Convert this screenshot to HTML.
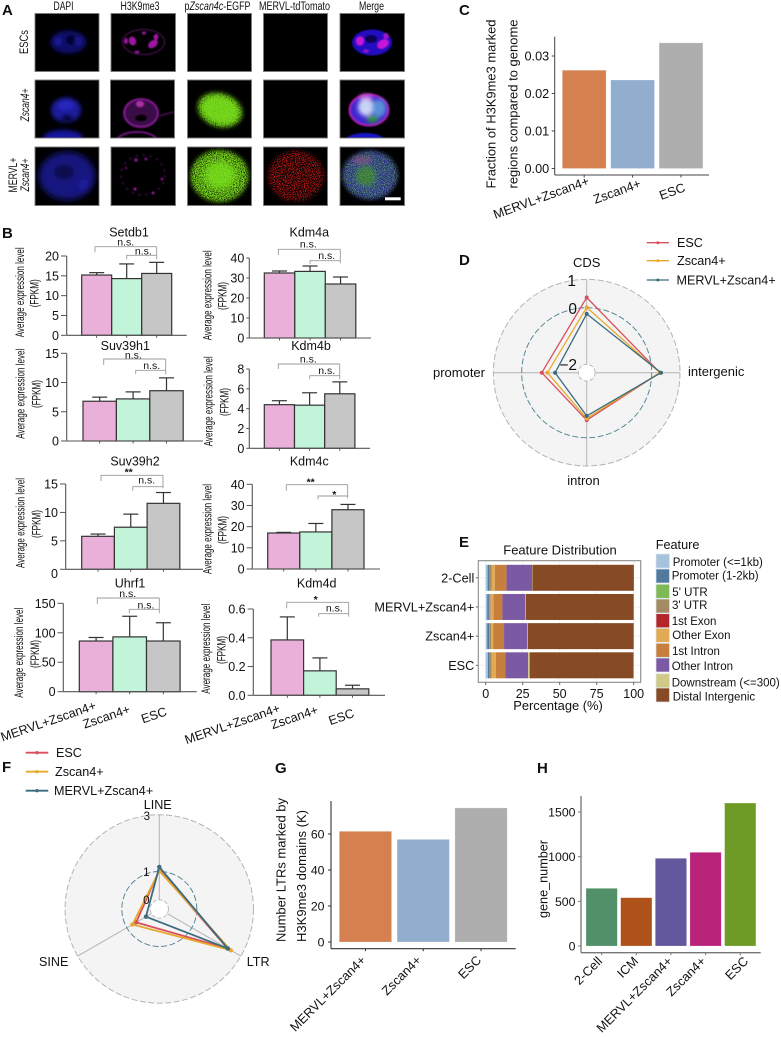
<!DOCTYPE html>
<html lang="en">
<head>
<meta charset="utf-8">
<title>H3K9me3 multi-panel figure</title>
<style>
html,body{margin:0;padding:0;background:#fff;}
svg#figure{display:block;font-family:"Liberation Sans",sans-serif;fill:#111;}
.letter{font-size:15px;font-weight:bold;fill:#111;}
.coltitle{font-size:11.5px;text-anchor:middle;}
.rowlabel{font-size:12px;text-anchor:middle;}
</style>
</head>
<body>
<svg id="figure" xmlns="http://www.w3.org/2000/svg" width="781" height="1037" viewBox="0 0 781 1037">
<defs>
<filter id="b1" x="-30%" y="-30%" width="160%" height="160%"><feGaussianBlur stdDeviation="0.9"/></filter>
<filter id="b2" x="-30%" y="-30%" width="160%" height="160%"><feGaussianBlur stdDeviation="2"/></filter>
<filter id="b3" x="-30%" y="-30%" width="160%" height="160%"><feGaussianBlur stdDeviation="3.2"/></filter>
<filter id="speckle" x="-15%" y="-15%" width="130%" height="130%" color-interpolation-filters="sRGB">
<feGaussianBlur in="SourceGraphic" stdDeviation="2" result="g"/>
<feTurbulence type="fractalNoise" baseFrequency="1.1" numOctaves="2" seed="4" result="n"/>
<feColorMatrix in="n" type="matrix" values="0 0 0 0 1 0 0 0 0 1 0 0 0 0 1 3.4 0 0 0 -0.95" result="m"/>
<feComposite in="g" in2="m" operator="in" result="c"/>
<feGaussianBlur in="c" stdDeviation="0.3"/>
</filter>
<filter id="speckleSparse" x="-15%" y="-15%" width="130%" height="130%" color-interpolation-filters="sRGB">
<feGaussianBlur in="SourceGraphic" stdDeviation="2" result="g"/>
<feTurbulence type="fractalNoise" baseFrequency="1.1" numOctaves="2" seed="9" result="n"/>
<feColorMatrix in="n" type="matrix" values="0 0 0 0 1 0 0 0 0 1 0 0 0 0 1 5 0 0 0 -2.3" result="m"/>
<feComposite in="g" in2="m" operator="in" result="c"/>
<feGaussianBlur in="c" stdDeviation="0.3"/>
</filter>
</defs>

<rect x="0" y="0" width="781" height="1037" fill="#fff"/>

<g>
<text class="letter" x="2" y="15">A</text>
<text class="coltitle" x="63.5" y="10" textLength="20" lengthAdjust="spacingAndGlyphs">DAPI</text>
<text class="coltitle" x="140" y="10" textLength="39" lengthAdjust="spacingAndGlyphs">H3K9me3</text>
<text class="coltitle" x="217.5" y="10" textLength="66" lengthAdjust="spacingAndGlyphs">p<tspan font-style="italic">Zscan4c</tspan>-EGFP</text>
<text class="coltitle" x="294.5" y="10" textLength="71" lengthAdjust="spacingAndGlyphs">MERVL-tdTomato</text>
<text class="coltitle" x="371.5" y="10" textLength="25" lengthAdjust="spacingAndGlyphs">Merge</text>

<text class="rowlabel" transform="translate(28,42) rotate(-90)" textLength="24" lengthAdjust="spacingAndGlyphs">ESCs</text>
<text class="rowlabel" transform="translate(29,105) rotate(-90)" font-style="italic" textLength="33" lengthAdjust="spacingAndGlyphs">Zscan4+</text>
<text class="rowlabel" transform="translate(17,175) rotate(-90)" textLength="35" lengthAdjust="spacingAndGlyphs">MERVL+</text>
<text class="rowlabel" transform="translate(29,175) rotate(-90)" font-style="italic" textLength="33" lengthAdjust="spacingAndGlyphs">Zscan4+</text>

<!-- Row 1 -->
<svg x="35" y="13.5" width="64" height="58" viewBox="35 13.5 64 58">
<rect x="35" y="13.5" width="64" height="58" fill="#000"/>
<g filter="url(#b2)"><ellipse cx="68.5" cy="42" rx="18" ry="11.5" fill="#0e0e6a"/><ellipse cx="72" cy="40" rx="6" ry="5" fill="#03031c"/><ellipse cx="58" cy="41" rx="3" ry="4" fill="#1f1fa0"/><ellipse cx="78" cy="41" rx="3" ry="5" fill="#1a1a90"/></g>
</svg>
<svg x="111" y="13.5" width="64.5" height="58" viewBox="111 13.5 64.5 58">
<rect x="111" y="13.5" width="64.5" height="58" fill="#000"/>
<ellipse cx="143.5" cy="42" rx="21" ry="12.5" fill="none" stroke="#3c0a44" stroke-width="1.5" filter="url(#b1)"/>
<g filter="url(#b1)" fill="#a015a4"><ellipse cx="132.5" cy="41" rx="3.5" ry="4.5" transform="rotate(-20 132.5 41)"/><ellipse cx="126" cy="41" rx="2" ry="3"/><ellipse cx="153" cy="44" rx="5.5" ry="3.5" transform="rotate(-35 153 44)"/><ellipse cx="156" cy="37" rx="2.5" ry="3"/><ellipse cx="144" cy="33" rx="2" ry="1.5"/><ellipse cx="137" cy="52" rx="2.5" ry="1.3"/></g>
</svg>
<svg x="187.5" y="13.5" width="64" height="58" viewBox="187.5 13.5 64 58"><rect x="187.5" y="13.5" width="64" height="58" fill="#000"/></svg>
<svg x="263.5" y="13.5" width="64" height="58" viewBox="263.5 13.5 64 58"><rect x="263.5" y="13.5" width="64" height="58" fill="#000"/></svg>
<svg x="340" y="13.5" width="64.5" height="58" viewBox="340 13.5 64.5 58">
<rect x="340" y="13.5" width="64.5" height="58" fill="#000"/>
<g filter="url(#b1)"><ellipse cx="372" cy="42.5" rx="20" ry="13" fill="#2208c0"/><ellipse cx="371" cy="39" rx="6" ry="4" fill="#080350"/><ellipse cx="360" cy="41" rx="4" ry="4.5" fill="#c818d8"/><ellipse cx="383" cy="44" rx="6" ry="4" fill="#c818d8" transform="rotate(-30 383 44)"/><ellipse cx="386" cy="36" rx="2.5" ry="3" fill="#a018d0"/><ellipse cx="366" cy="51" rx="3" ry="1.5" fill="#9018d0"/></g>
</svg>
<!-- Row 2 -->
<svg x="35" y="80" width="64" height="58" viewBox="35 80 64 58">
<rect x="35" y="80" width="64" height="58" fill="#000"/>
<g filter="url(#b2)"><ellipse cx="66" cy="110" rx="15" ry="12.5" fill="#1a1a9c"/><ellipse cx="67" cy="118" rx="6" ry="3" fill="#03031c"/><ellipse cx="66" cy="105" rx="8" ry="5" fill="#2626c0"/><ellipse cx="63" cy="138" rx="20" ry="8" fill="#1414a0"/></g>
</svg>
<svg x="110.5" y="80" width="64" height="58" viewBox="110.5 80 64 58">
<rect x="110.5" y="80" width="64" height="58" fill="#000"/>
<g filter="url(#b1)"><ellipse cx="141" cy="113" rx="17" ry="14" fill="#3a0c46" stroke="#8a1a98" stroke-width="1.8"/><ellipse cx="141" cy="118" rx="6" ry="3.5" fill="#000"/><ellipse cx="140" cy="104" rx="4" ry="3" fill="#a830a8"/><path d="M158 116 L174 112" stroke="#3a0c44" stroke-width="2" fill="none"/><ellipse cx="137" cy="141" rx="20" ry="9" fill="none" stroke="#701680" stroke-width="2"/></g>
</svg>
<svg x="187.5" y="80" width="64" height="58" viewBox="187.5 80 64 58">
<rect x="187.5" y="80" width="64" height="58" fill="#000"/>
<ellipse cx="220" cy="110" rx="19" ry="13.5" transform="rotate(18 220 110)" fill="#5cb818" filter="url(#b2)"/>
<ellipse cx="220" cy="110" rx="23" ry="17" transform="rotate(18 220 110)" fill="#7ce01c" filter="url(#speckle)"/>
</svg>
<svg x="263.5" y="80" width="64" height="58" viewBox="263.5 80 64 58"><rect x="263.5" y="80" width="64" height="58" fill="#000"/></svg>
<svg x="340" y="80" width="64.5" height="58" viewBox="340 80 64.5 58">
<rect x="340" y="80" width="64.5" height="58" fill="#000"/>
<g filter="url(#b1)"><ellipse cx="369" cy="110" rx="19.5" ry="15.5" fill="#4028d0" stroke="#b01cb8" stroke-width="2"/></g>
<g filter="url(#b2)"><ellipse cx="366" cy="107" rx="8" ry="9" fill="#c8d4f4"/><ellipse cx="379" cy="108" rx="7" ry="9" fill="#5a90d8"/><ellipse cx="372.5" cy="119" rx="6" ry="3.5" fill="#2c9a2c"/><ellipse cx="366" cy="97" rx="7" ry="2.5" fill="#d060d8"/></g>
<ellipse cx="365" cy="141" rx="20" ry="8" fill="#1616c8" filter="url(#b1)"/>
</svg>
<!-- Row 3 -->
<svg x="35" y="147" width="64" height="58.5" viewBox="35 147 64 58.5">
<rect x="35" y="147" width="64" height="58.5" fill="#000"/>
<g filter="url(#b3)"><ellipse cx="67" cy="176" rx="28" ry="24" fill="#131380"/><ellipse cx="64" cy="172" rx="10" ry="7" fill="#080840"/><ellipse cx="84" cy="185" rx="6" ry="6" fill="#1a1a9c"/></g>
</svg>
<svg x="111" y="147" width="64.5" height="58.5" viewBox="111 147 64.5 58.5">
<rect x="111" y="147" width="64.5" height="58.5" fill="#000"/>
<ellipse cx="143" cy="175" rx="22" ry="20" fill="none" stroke="#3a0a42" stroke-width="1.5" stroke-dasharray="3 4" filter="url(#b1)"/>
<g fill="#a818b0" filter="url(#b1)"><circle cx="136" cy="160" r="1.6"/><circle cx="146" cy="159" r="1.3"/><circle cx="162" cy="179" r="1.3"/><circle cx="135" cy="189" r="1.5"/><circle cx="153" cy="193" r="1.3"/><circle cx="126" cy="168" r="1"/></g>
</svg>
<svg x="187.5" y="147" width="64" height="58.5" viewBox="187.5 147 64 58.5">
<rect x="187.5" y="147" width="64" height="58.5" fill="#000"/>
<ellipse cx="220" cy="175" rx="16" ry="14" fill="#5cb818" filter="url(#b3)"/>
<ellipse cx="219.5" cy="176" rx="29" ry="26" fill="#7ce01c" filter="url(#speckle)"/>
</svg>
<svg x="263.5" y="147" width="64" height="58.5" viewBox="263.5 147 64 58.5">
<rect x="263.5" y="147" width="64" height="58.5" fill="#000"/>
<ellipse cx="296" cy="176" rx="28" ry="25" fill="#e81c1c" filter="url(#speckleSparse)"/>
</svg>
<svg x="340" y="147" width="64.5" height="58.5" viewBox="340 147 64.5 58.5">
<rect x="340" y="147" width="64.5" height="58.5" fill="#000"/>
<g filter="url(#b2)"><ellipse cx="370" cy="175" rx="27" ry="24" fill="#2a2a8c"/><ellipse cx="366" cy="176" rx="10" ry="10" fill="#347034"/><ellipse cx="362" cy="160" rx="9" ry="3.5" fill="#7a3090"/></g>
<ellipse cx="370" cy="175" rx="28" ry="24" fill="#5ca05a" filter="url(#speckleSparse)"/>
<rect x="385" y="197.3" width="15.7" height="3" fill="#fff"/>
</svg>
<g fill="none" stroke="#7a7a7a" stroke-width="0.9">
<rect x="35" y="13.5" width="64" height="58"/><rect x="111" y="13.5" width="64.5" height="58"/><rect x="187.5" y="13.5" width="64" height="58"/><rect x="263.5" y="13.5" width="64" height="58"/><rect x="340" y="13.5" width="64.5" height="58"/>
<rect x="35" y="80" width="64" height="58"/><rect x="110.5" y="80" width="64" height="58"/><rect x="187.5" y="80" width="64" height="58"/><rect x="263.5" y="80" width="64" height="58"/><rect x="340" y="80" width="64.5" height="58"/>
<rect x="35" y="147" width="64" height="58.5"/><rect x="111" y="147" width="64.5" height="58.5"/><rect x="187.5" y="147" width="64" height="58.5"/><rect x="263.5" y="147" width="64" height="58.5"/><rect x="340" y="147" width="64.5" height="58.5"/>
</g>
</g>

<text class="letter" x="2" y="238">B</text>
<text class="letter" x="459" y="15">C</text>
<text class="letter" x="459" y="265">D</text>
<text class="letter" x="459" y="547">E</text>
<text class="letter" x="2" y="772">F</text>
<text class="letter" x="275" y="773">G</text>
<text class="letter" x="537" y="773">H</text>

<g id="charts"></g>
</svg>

<script>
// ---------- Panel B data ----------
const expressionCategories = ['MERVL+Zscan4+', 'Zscan4+', 'ESC'];
const setdb1Means = [15.2, 14.3, 15.6];
const setdb1Errors = [0.6, 3.7, 2.8];
const setdb1Ticks = [0, 5, 10, 15, 20];
const kdm4aMeans = [32.5, 33.3, 27];
const kdm4aErrors = [1, 2.7, 3.5];
const kdm4aTicks = [0, 10, 20, 30, 40];
const suv39h1Means = [6.8, 7.2, 8.6];
const suv39h1Errors = [0.7, 1.2, 2.2];
const suv39h1Ticks = [0, 5, 10, 15];
const kdm4bMeans = [4.4, 4.35, 5.5];
const kdm4bErrors = [0.4, 1.25, 1.2];
const kdm4bTicks = [0, 2, 4, 6, 8];
const suv39h2Means = [5.8, 7.4, 11.6];
const suv39h2Errors = [0.4, 2.3, 1.9];
const suv39h2Ticks = [0, 5, 10, 15];
const kdm4cMeans = [17, 17.5, 28];
const kdm4cErrors = [0.3, 4, 2.5];
const kdm4cTicks = [0, 10, 20, 30, 40];
const uhrf1Means = [86, 93, 86];
const uhrf1Errors = [6, 35, 31];
const uhrf1Ticks = [0, 50, 100, 150];
const kdm4dMeans = [0.385, 0.17, 0.045];
const kdm4dErrors = [0.16, 0.09, 0.025];
const kdm4dTicks = [0, 0.2, 0.4, 0.6];
const kdm4dTickLabels = ['0.0', '0.2', '0.4', '0.6'];

// ---------- Panel C data ----------
const fractionCategories = ['MERVL+Zscan4+', 'Zscan4+', 'ESC'];
const fractionValues = [0.0262, 0.0236, 0.0335];
const fractionTicks = [0, 0.01, 0.02, 0.03];
const fractionTickLabels = ['0.00', '0.01', '0.02', '0.03'];

// ---------- Panel D data ----------
const genomicAxes = ['CDS', 'intergenic', 'intron', 'promoter'];
const genomicEsc = [0.36, 0.29, -0.62, -0.71];
const genomicZscan = [0.01, 0.29, -0.68, -0.91];
const genomicMervl = [-0.22, 0.33, -0.77, -1.18];
const radarSeriesNames = ['ESC', 'Zscan4+', 'MERVL+Zscan4+'];

// ---------- Panel E data ----------
const featureCategories = ['2-Cell', 'MERVL+Zscan4+', 'Zscan4+', 'ESC'];
const featureNames = ['Promoter (<=1kb)', 'Promoter (1-2kb)', "5' UTR", "3' UTR", '1st Exon', 'Other Exon', '1st Intron', 'Other Intron', 'Downstream (<=300)', 'Distal Intergenic'];
const promoter1kb = [1.3, 1.0, 1.0, 1.5];
const promoter2kb = [1.3, 1.2, 1.5, 1.2];
const utr5 = [0.2, 0.2, 0.2, 0.2];
const utr3 = [1.2, 0.9, 0.9, 0.9];
const firstExon = [0.1, 0.1, 0.1, 0.1];
const otherExon = [2.1, 1.9, 1.3, 2.9];
const firstIntron = [7.9, 6.0, 7.4, 6.6];
const otherIntron = [17.3, 15.5, 15.6, 15.3];
const downstream = [0.2, 0.4, 0.4, 1.0];
const distalIntergenic = [68.5, 72.8, 71.6, 70.2];
const percentTicks = [0, 25, 50, 75, 100];

// ---------- Panel F data ----------
const repeatAxes = ['LINE', 'LTR', 'SINE'];
const repeatEsc = [1.05, 2.46, 0.62];
const repeatZscan = [1.02, 2.59, 0.77];
const repeatMervl = [1.16, 2.47, 0.22];

// ---------- Panel G data ----------
const ltrCategories = ['MERVL+Zscan4+', 'Zscan4+', 'ESC'];
const ltrValues = [61.5, 57, 74.5];
const ltrTicks = [0, 20, 40, 60];

// ---------- Panel H data ----------
const geneCategories = ['2-Cell', 'ICM', 'MERVL+Zscan4+', 'Zscan4+', 'ESC'];
const geneValues = [646, 541, 982, 1049, 1601];
const geneTicks = [0, 500, 1000, 1500];

// ---------- Helpers ----------
const NS = 'http://www.w3.org/2000/svg';
const root = document.getElementById('charts');
function shape(parent, tag, attrs, name) {
  const el = document.createElementNS(NS, tag);
  for (const k in attrs) el.setAttribute(k, attrs[k]);
  
  
  parent.appendChild(el);
  return el;
}
function label(parent, str, attrs, name) {
  const el = shape(parent, 'text', attrs, name);
  el.textContent = str;
  return el;
}
function group(name) {
  return shape(root, 'g', {}, name);
}
function line(parent, x1, y1, x2, y2, stroke, w, name, extra) {
  return shape(parent, 'line', Object.assign({x1: x1, y1: y1, x2: x2, y2: y2, stroke: stroke, 'stroke-width': w}, extra || {}), name);
}
function slug(s) {
  return s.toLowerCase().replace(/[^a-z0-9]+/g, '-').replace(/^-|-$/g, '');
}
function rotatedEnd(parent, str, x, y, deg, size, name) {
  return label(parent, str, {x: 0, y: 0, transform: 'translate(' + x + ',' + y + ') rotate(' + deg + ')', 'text-anchor': 'end', 'font-size': size}, name);
}

// ---------- Panel B ----------
const expressionFills = ['#e9b1da', '#c1f4d8', '#c6c6c6'];
function drawExpressionPanel(id, title, means, errors, ticks, tickLabels, g) {
  const p = group('expression-panel-' + id);
  const yScale = function (v) { return g.y0 - v * (g.y0 - g.yMax) / g.domainMax; };
  const xScale = function (i) { return g.barStart + i * g.barWidth; };
  const gap = g.labelGap || 7.7;
  label(p, title, {x: g.titleX, y: g.titleY, 'text-anchor': 'middle', 'font-size': 12.5}, 'panel-title');
  label(p, 'Average expression level', {x: 0, y: 0, transform: 'translate(' + g.yl1[0] + ',' + g.yl1[1] + ') rotate(-90)', dy: '0.35em', 'text-anchor': 'middle', 'font-size': 11.5, textLength: 90, lengthAdjust: 'spacingAndGlyphs'}, 'y-axis-title-line-1');
  label(p, '(FPKM)', {x: 0, y: 0, transform: 'translate(' + g.yl2[0] + ',' + g.yl2[1] + ') rotate(-90)', dy: '0.35em', 'text-anchor': 'middle', 'font-size': 11.5, textLength: 28, lengthAdjust: 'spacingAndGlyphs'}, 'y-axis-title-line-2');
  means.forEach(function (m, i) {
    const top = yScale(m);
    const cx = xScale(i) + g.barWidth / 2;
    const capTop = yScale(m + errors[i]);
    line(p, cx, top, cx, capTop, '#333', 1.2, 'error-bar-stem-' + slug(expressionCategories[i]));
    line(p, cx - 7.5, capTop, cx + 7.5, capTop, '#333', 1.2, 'error-bar-cap-' + slug(expressionCategories[i]));
    shape(p, 'rect', {x: xScale(i), y: top, width: g.barWidth, height: g.y0 - top, fill: expressionFills[i], stroke: '#333', 'stroke-width': 1.2}, 'bar-' + slug(expressionCategories[i]));
    line(p, cx, g.y0, cx, g.y0 + 2.5, '#444', 0.9, 'x-tick');
  });
  line(p, g.axisX, g.yMax, g.axisX, g.y0, '#555', 1.1, 'y-axis-line');
  line(p, g.axisX, g.y0, g.xEnd, g.y0, '#555', 1.1, 'x-axis-line');
  ticks.forEach(function (t, i) {
    const y = yScale(t);
    line(p, g.axisX - (gap - 2), y, g.axisX, y, '#555', 1, 'y-tick');
    const dy = (t === 0 && g.zeroDy) ? g.zeroDy : 0;
    label(p, tickLabels ? tickLabels[i] : String(t), {x: g.axisX - gap, y: y + 4.5 + dy, 'text-anchor': 'end', 'font-size': 12.5}, 'y-tick-label');
  });
  const b = g.br;
  const pb = 'M' + b[0] + ' ' + b[4] + ' V' + b[3] + ' H' + b[2];
  shape(p, 'path', {d: pb, fill: 'none', stroke: '#9a9a9a', 'stroke-width': 0.9}, 'bracket-outer');
  const pc = 'M' + b[1] + ' ' + b[6] + ' V' + b[5] + ' H' + b[2] + ' V' + b[7] + ' M' + b[2] + ' ' + b[3] + ' V' + b[5];
  shape(p, 'path', {d: pc, fill: 'none', stroke: '#9a9a9a', 'stroke-width': 0.9}, 'bracket-inner');
  g.sig.forEach(function (s, i) {
    label(p, s[0], {x: s[1], y: s[2], 'text-anchor': 'middle', 'font-size': 10.5, 'font-weight': s[0].charAt(0) === '*' ? 'bold' : 'normal'}, 'significance-label-' + (i + 1));
  });
  if (g.catEnds) {
    expressionCategories.forEach(function (c, i) {
      rotatedEnd(p, c, g.catEnds[i][0], g.catEnds[i][1], -19, 12.7, 'x-tick-label-' + slug(c));
    });
  }
}
drawExpressionPanel('setdb1', 'Setdb1', setdb1Means, setdb1Errors, setdb1Ticks, null, {axisX: 66.7, y0: 335.3, yMax: 256, domainMax: 20, barStart: 81.7, barWidth: 30, xEnd: 186.7, titleX: 129, titleY: 236.7, yl1: [20, 292.3], yl2: [34.3, 293.3], br: [95, 126.7, 156.7, 246.7, 252.3, 255.3, 259.3, 259.3], sig: [['n.s.', 125.7, 245.3], ['n.s.', 143.3, 254.3]]});
drawExpressionPanel('kdm4a', 'Kdm4a', kdm4aMeans, kdm4aErrors, kdm4aTicks, null, {axisX: 249.3, labelGap: 5, y0: 338, yMax: 258, domainMax: 40, barStart: 264.3, barWidth: 30.5, xEnd: 371, titleX: 309.3, titleY: 236.7, yl1: [207.3, 295.3], yl2: [222.7, 296], br: [278.3, 310, 340.3, 249.3, 255, 260.7, 264, 263.3], sig: [['n.s.', 308.3, 247.7], ['n.s.', 326.7, 259]]});
drawExpressionPanel('suv39h1', 'Suv39h1', suv39h1Means, suv39h1Errors, suv39h1Ticks, null, {axisX: 66.7, y0: 441, yMax: 353.3, domainMax: 15, barStart: 83, barWidth: 33.4, xEnd: 203, titleX: 125.3, titleY: 350, yl1: [20.7, 393.7], yl2: [36.7, 394], br: [103.7, 135.7, 165.7, 359, 365, 370.3, 374.3, 374.3], sig: [['n.s.', 133.3, 358.3], ['n.s.', 151.7, 369]]});
drawExpressionPanel('kdm4b', 'Kdm4b', kdm4bMeans, kdm4bErrors, kdm4bTicks, null, {axisX: 249.3, labelGap: 5, y0: 448.3, yMax: 369, domainMax: 8, barStart: 264.3, barWidth: 30.2, xEnd: 370, titleX: 311, titleY: 350, yl1: [208.3, 401.3], yl2: [224.7, 402], br: [278.3, 309.7, 339.7, 364, 369, 375.7, 379.3, 379.3], sig: [['n.s.', 308.3, 362.7], ['n.s.', 326.7, 374]]});
drawExpressionPanel('suv39h2', 'Suv39h2', suv39h2Means, suv39h2Errors, suv39h2Ticks, null, {axisX: 65.7, zeroDy: 4, y0: 569.3, yMax: 484, domainMax: 15, barStart: 81.7, barWidth: 32.7, xEnd: 203, titleX: 135, titleY: 465.3, yl1: [20.7, 523], yl2: [36.7, 524], br: [101, 132.7, 163, 475.3, 481, 486.7, 490.7, 488.3], sig: [['**', 128.7, 475.5], ['n.s.', 146.7, 483.3]]});
drawExpressionPanel('kdm4c', 'Kdm4c', kdm4cMeans, kdm4cErrors, kdm4cTicks, null, {axisX: 252.3, y0: 569, yMax: 484.3, domainMax: 40, barStart: 267.7, barWidth: 32.1, xEnd: 380, titleX: 309.3, titleY: 465.3, yl1: [207.3, 529], yl2: [222.7, 530], br: [286.3, 318, 347.7, 484.7, 490.7, 496, 499.3, 498.3], sig: [['**', 310.7, 485.5], ['*', 334.3, 498]]});
drawExpressionPanel('uhrf1', 'Uhrf1', uhrf1Means, uhrf1Errors, uhrf1Ticks, null, {axisX: 63.3, y0: 691.7, yMax: 603.3, domainMax: 150, barStart: 79.3, barWidth: 33.6, xEnd: 196.7, titleX: 130, titleY: 587.7, yl1: [19, 652.7], yl2: [35, 654], br: [97.3, 129.3, 159.3, 598, 604, 609.3, 613.3, 613.3], sig: [['n.s.', 127.7, 597], ['n.s.', 146, 608.3]], catEnds: [[97, 709], [131, 712.7], [167.7, 715]]});
drawExpressionPanel('kdm4d', 'Kdm4d', kdm4dMeans, kdm4dErrors, kdm4dTicks, kdm4dTickLabels, {axisX: 253.3, y0: 695.3, yMax: 609, domainMax: 0.6, barStart: 271, barWidth: 32.6, xEnd: 385, titleX: 316.7, titleY: 587.7, yl1: [206, 648.7], yl2: [221.7, 650], br: [286.7, 318.7, 348.7, 602.3, 608.3, 613.7, 616.7, 616.7], sig: [['*', 315.7, 603], ['n.s.', 334.3, 611.7]], catEnds: [[281, 711.7], [319, 713.3], [355, 716.7]]});

// ---------- Simple bar charts ----------
function drawSimpleBars(id, categories, values, ticks, tickLabels, colors, g) {
  const p = group('bar-chart-' + id);
  const yScale = function (v) { return g.y0 - v * g.pxPerUnit; };
  const xScale = function (i) { return g.barStart + i * g.step; };
  categories.forEach(function (c, i) {
    const top = yScale(values[i]);
    shape(p, 'rect', {x: xScale(i), y: top, width: g.barWidth, height: g.y0 - top, fill: colors[i], stroke: '#fff', 'stroke-opacity': 0.35, 'stroke-width': 0.6}, 'bar-' + slug(c));
    const cx = xScale(i) + g.barWidth / 2;
    line(p, cx, g.axisY, cx, g.axisY + 2.5, g.axisColor, 1, 'x-tick');
    rotatedEnd(p, c, g.labelEnds[i][0], g.labelEnds[i][1], g.labelAngle, g.labelSize, 'x-tick-label-' + slug(c));
  });
  line(p, g.axisX, g.yTop, g.axisX, g.axisY, g.axisColor, g.axisWidth, 'y-axis-line');
  line(p, g.axisX, g.axisY, g.xEnd, g.axisY, g.axisColor, g.axisWidth, 'x-axis-line');
  ticks.forEach(function (t, i) {
    const y = yScale(t);
    line(p, g.axisX - 3, y, g.axisX, y, g.axisColor, 1, 'y-tick');
    label(p, tickLabels ? tickLabels[i] : String(t), {x: g.axisX - g.labelGap, y: y + 4.5, 'text-anchor': 'end', 'font-size': g.tickSize}, 'y-tick-label');
  });
  g.titles.forEach(function (t, i) {
    label(p, t[0], {x: 0, y: 0, transform: 'translate(' + t[1] + ',' + t[2] + ') rotate(-90)', dy: '0.35em', 'text-anchor': 'middle', 'font-size': t[4], textLength: t[3], lengthAdjust: 'spacingAndGlyphs'}, 'y-axis-title-line-' + (i + 1));
  });
}
const threeColors = ['#d5814f', '#92aecf', '#aeaeae'];
drawSimpleBars('fraction', fractionCategories, fractionValues, fractionTicks, fractionTickLabels, threeColors, {axisX: 554.7, axisY: 175, yTop: 36.7, xEnd: 709, y0: 168.5, pxPerUnit: 3750, barStart: 562.3, barWidth: 43.8, step: 48.4, axisColor: '#444', axisWidth: 1, labelGap: 5.5, labelEnds: [[590, 184.5], [641.7, 187], [686, 191]], labelAngle: -20, labelSize: 12.8, tickSize: 12.7, titles: [['Fraction of H3K9me3 marked', 491, 104, 169, 13], ['regions compared to genome', 513, 104, 169, 13]]});
drawSimpleBars('ltr', ltrCategories, ltrValues, ltrTicks, null, threeColors, {axisX: 331, axisY: 948.7, yTop: 801, xEnd: 515.7, y0: 942, pxPerUnit: 1.8, barStart: 339.3, barWidth: 52.3, step: 57.8, axisColor: '#333', axisWidth: 1.1, labelGap: 6.5, labelEnds: [[366.5, 961], [422, 961], [482, 961]], labelAngle: -45, labelSize: 12.8, tickSize: 12.3, titles: [['Number LTRs marked by', 281, 870, 144, 13], ['H3K9me3 domains (K)', 301.3, 876, 132, 13]]});
drawSimpleBars('gene-number', geneCategories, geneValues, geneTicks, null, ['#52906a', '#ae5219', '#63589d', '#b8237a', '#6e9b25'], {axisX: 581, axisY: 952.7, yTop: 796, xEnd: 760.7, y0: 946, pxPerUnit: 0.0893, barStart: 586, barWidth: 31.3, step: 34.65, axisColor: '#777', axisWidth: 1.3, labelGap: 5.5, labelEnds: [[603, 962], [639, 962], [673, 962], [706.5, 962], [749, 962]], labelAngle: -45, labelSize: 12.8, tickSize: 12.3, titles: [['gene_number', 543, 879, 78, 13]]});

// ---------- Radar charts ----------
const radarColors = ['#d9505c', '#e8a92d', '#3a6b7e'];
function drawRadar(id, axes, seriesList, g) {
  const p = group('radar-chart-' + id);
  const rScale = function (v) { return g.r0 + g.rPerUnit * v; };
  const angle = function (i) { return 2 * Math.PI * i / axes.length; };
  const px = function (i, v) { return g.cx + rScale(v) * Math.sin(angle(i)); };
  const py = function (i, v) { return g.cy - rScale(v) * Math.cos(angle(i)); };
  const rOuter = rScale(g.max);
  const rMid = rScale(g.mid);
  const rInner = rScale(g.min);
  shape(p, 'circle', {cx: g.cx, cy: g.cy, r: rOuter, fill: '#f4f4f4', stroke: '#b4b4b4', 'stroke-width': 1, 'stroke-dasharray': '6 2.5'}, 'radar-outer-gridline');
  axes.forEach(function (a, i) {
    line(p, px(i, g.min), py(i, g.min), px(i, g.max), py(i, g.max), '#b4b4b4', 1, 'radar-axis-' + slug(a));
  });
  shape(p, 'circle', {cx: g.cx, cy: g.cy, r: rMid, fill: 'none', stroke: '#4a7f8e', 'stroke-width': 0.9, 'stroke-dasharray': '6 2.5'}, 'radar-mid-gridline');
  shape(p, 'circle', {cx: g.cx, cy: g.cy, r: rInner, fill: '#fff', stroke: '#b4b4b4', 'stroke-width': 0.9, 'stroke-dasharray': '4 2'}, 'radar-inner-gridline');
  seriesList.forEach(function (vals, s) {
    const pts = vals.map(function (v, i) { return px(i, v) + ',' + py(i, v); }).join(' ');
    shape(p, 'polygon', {points: pts, fill: 'none', stroke: radarColors[s], 'stroke-width': g.lineWidth, 'stroke-linejoin': 'round'}, 'radar-line-' + slug(radarSeriesNames[s]));
    vals.forEach(function (v, i) {
      shape(p, 'circle', {cx: px(i, v), cy: py(i, v), r: g.pointR, fill: radarColors[s]}, 'radar-point-' + slug(radarSeriesNames[s]));
    });
  });
  g.axisLabels.forEach(function (l, i) {
    label(p, axes[i], {x: l[0], y: l[1], 'text-anchor': l[2], 'font-size': g.axisFont}, 'axis-label-' + slug(axes[i]));
  });
  g.gridLabels.forEach(function (l) {
    label(p, l[0], {x: l[1], y: l[2], 'text-anchor': 'end', 'font-size': g.gridFont}, 'radial-tick-label');
  });
  radarSeriesNames.forEach(function (n, s) {
    const lg = g.legend[s];
    line(p, g.legendX1, lg[0], g.legendX2, lg[0], radarColors[s], g.lineWidth, 'legend-line-' + slug(n));
    shape(p, 'circle', {cx: (g.legendX1 + g.legendX2) / 2, cy: lg[0], r: g.pointR * 0.75, fill: radarColors[s]}, 'legend-marker-' + slug(n));
    label(p, n, {x: lg[1], y: lg[0] + 4.5, 'font-size': 12.6}, 'legend-entry-' + slug(n));
  });
}
drawRadar('genomic', genomicAxes, [genomicEsc, genomicZscan, genomicMervl], {cx: 586.7, cy: 372.7, r0: 65, rPerUnit: 28.3, max: 1, mid: 0, min: -2, lineWidth: 1.3, pointR: 2, gridFont: 15.5, axisFont: 13, axisLabels: [[586.7, 267, 'middle'], [688, 376, 'start'], [583.5, 485, 'middle'], [485, 377, 'end']], gridLabels: [['1', 576, 286], ['0', 577, 314], ['\u22122', 577, 370]], legendX1: 646.7, legendX2: 669, legend: [[242.7, 677], [260.7, 677], [280, 676.5]]});
drawRadar('repeats', repeatAxes, [repeatEsc, repeatZscan, repeatMervl], {cx: 159.3, cy: 909, r0: 9.15, rPerUnit: 28.35, max: 3, mid: 1, min: 0, lineWidth: 1.8, pointR: 2.2, gridFont: 11.5, axisFont: 12.6, axisLabels: [[157.7, 809, 'middle'], [246.7, 966, 'start'], [39, 966, 'start']], gridLabels: [['3', 150, 820], ['1', 149.5, 876], ['0', 149.5, 904]], legendX1: 25.7, legendX2: 48.3, legend: [[752.7, 56], [771.7, 55], [790.7, 54]]});

// ---------- Panel E: stacked bars ----------
const featureSeries = [promoter1kb, promoter2kb, utr5, utr3, firstExon, otherExon, firstIntron, otherIntron, downstream, distalIntergenic];
const featureColors = ['#a6c2dd', '#527a9d', '#7fb955', '#a38c63', '#b5262a', '#e2aa54', '#c77f3e', '#7b5aa3', '#d0ca88', '#864a24'];
(function () {
  const p = group('feature-distribution-chart');
  const xScale = function (v) { return 485.7 + v * 1.48; };
  const yCenter = function (i) { return 577.8 + i * 29.17; };
  const barH = 26;
  shape(p, 'rect', {x: 478.3, y: 560.7, width: 162.4, height: 121.6, fill: '#fff'}, 'plot-background');
  percentTicks.forEach(function (t) {
    line(p, xScale(t), 560.7, xScale(t), 682.3, '#efefef', 1, 'x-gridline');
  });
  featureCategories.forEach(function (c, i) {
    line(p, 478.3, yCenter(i), 640.7, yCenter(i), '#efefef', 1, 'y-gridline');
    let cum = 0;
    featureSeries.forEach(function (s, k) {
      shape(p, 'rect', {x: xScale(cum), y: yCenter(i) - barH / 2, width: s[i] * 1.48, height: barH, fill: featureColors[k]}, 'stack-' + slug(c) + '-' + slug(featureNames[k]));
      cum += s[i];
    });
    line(p, 475.8, yCenter(i), 478.3, yCenter(i), '#555', 0.9, 'y-tick');
    label(p, c, {x: 474.3, y: yCenter(i) + 4.5, 'text-anchor': 'end', 'font-size': 12.7}, 'y-tick-label-' + slug(c));
  });
  shape(p, 'rect', {x: 478.3, y: 560.7, width: 162.4, height: 121.6, fill: 'none', stroke: '#8a8a8a', 'stroke-width': 1.1}, 'plot-border');
  percentTicks.forEach(function (t) {
    line(p, xScale(t), 682.3, xScale(t), 685, '#555', 0.9, 'x-tick');
    label(p, String(t), {x: xScale(t), y: 698, 'text-anchor': 'middle', 'font-size': 12.5}, 'x-tick-label');
  });
  label(p, 'Feature Distribution', {x: 560, y: 554.3, 'text-anchor': 'middle', 'font-size': 13}, 'chart-title');
  label(p, 'Percentage (%)', {x: 558, y: 710, 'text-anchor': 'middle', 'font-size': 12.9}, 'x-axis-title');
  label(p, 'Feature', {x: 655.7, y: 549, 'font-size': 12.7}, 'legend-title');
  const swatchCenters = [561, 576, 591.3, 606, 620.7, 635.3, 650.3, 665, 680.7, 695];
  const textBase = [566, 579.3, 596, 609, 625, 639, 655, 670, 686.7, 700.7];
  const textX = [672.7, 671.7, 672.3, 672, 671.7, 672.3, 672, 671.7, 671.7, 672.7];
  featureNames.forEach(function (n, i) {
    shape(p, 'rect', {x: 656, y: swatchCenters[i] - 7, width: 13.5, height: 14, fill: featureColors[i], stroke: '#dfe6ee', 'stroke-width': 0.7}, 'legend-swatch-' + slug(n));
    label(p, n, {x: textX[i], y: textBase[i], 'font-size': 11.5}, 'legend-entry-' + slug(n));
  });
})();
</script>
</body>
</html>
